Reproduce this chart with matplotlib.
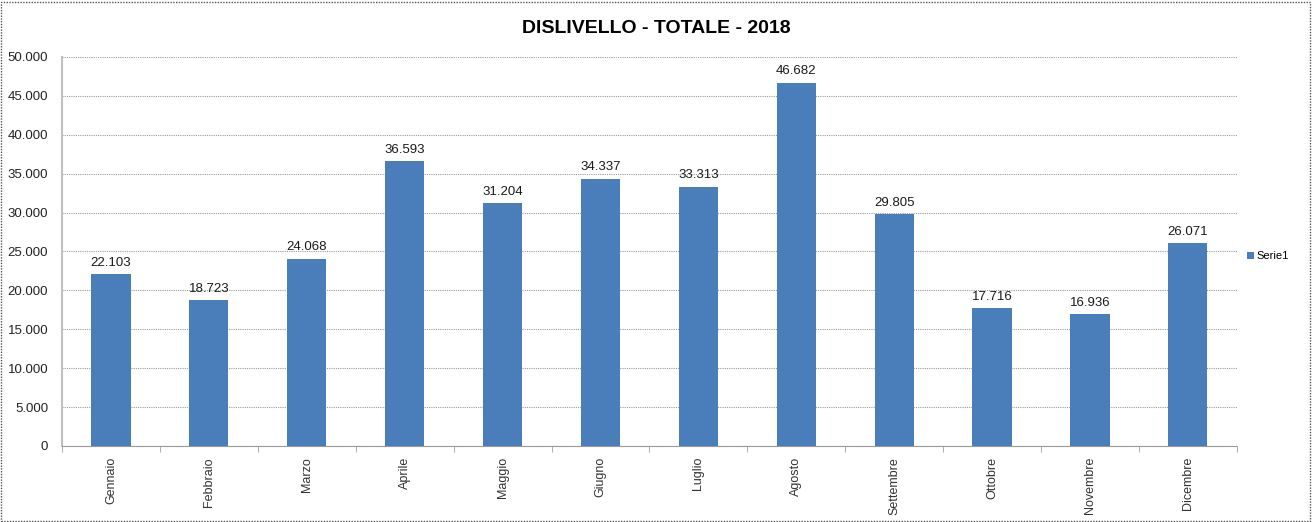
import matplotlib
matplotlib.use("Agg")
import matplotlib.pyplot as plt
from matplotlib.patches import Rectangle
from matplotlib.ticker import FuncFormatter, FixedLocator

# Dati
mesi = ["Gennaio", "Febbraio", "Marzo", "Aprile", "Maggio", "Giugno",
        "Luglio", "Agosto", "Settembre", "Ottobre", "Novembre", "Dicembre"]
dislivello = [22103, 18723, 24068, 36593, 31204, 34337,
              33313, 46682, 29805, 17716, 16936, 26071]


def formato_it(v, pos=None):
    # separatore delle migliaia con il punto
    return f"{int(round(v)):,}".replace(",", ".")


plt.rcParams["font.family"] = ["Liberation Sans", "DejaVu Sans"]
plt.rcParams["hatch.color"] = "#6f98cf"
plt.rcParams["hatch.linewidth"] = 0.3

fig = plt.figure(figsize=(13.13, 5.22), dpi=100)
ax = fig.add_axes([0.0472, 0.1456, 0.8948, 0.7455])

x = list(range(len(mesi)))
barre = ax.bar(x, dislivello, width=0.4, color="#4A7EBB", edgecolor="#4A7EBB",
               hatch="xxxxxx", linewidth=0, label="Serie1", zorder=3)

# etichette sopra le barre
for xi, v in zip(x, dislivello):
    ax.text(xi, v + 700, formato_it(v), ha="center", va="bottom",
            fontsize=9.5, color="#1a1a1a")

ax.set_xlim(-0.5, len(mesi) - 0.5)
ax.set_ylim(0, 50000)
ax.yaxis.set_major_locator(FixedLocator(range(0, 50001, 5000)))
ax.yaxis.set_major_formatter(FuncFormatter(formato_it))
ax.tick_params(axis="y", length=0, labelsize=9.5, pad=10, labelcolor="#222222")

ax.set_xticks(x)
ax.set_xticklabels(mesi, rotation=90, fontsize=9, color="#333333")
ax.tick_params(axis="x", length=0, pad=8)
ax.set_xticks([i - 0.5 for i in range(len(mesi) + 1)], minor=True)
ax.tick_params(axis="x", which="minor", length=4, color="#a0a0a0")

ax.grid(axis="y", color="#9a9a9a", linestyle=(0, (1, 1)), linewidth=0.8, zorder=0)
for s in ["top", "right"]:
    ax.spines[s].set_visible(False)
ax.spines["left"].set_color("#c0c0c0")
ax.spines["left"].set_linewidth(1.5)
ax.spines["bottom"].set_color("#9a9a9a")
ax.spines["bottom"].set_linestyle((0, (1, 1)))

fig.text(0.5, 0.945, "DISLIVELLO - TOTALE - 2018", ha="center", va="center",
         fontsize=14, fontweight="bold")

ax.legend(loc="center left", bbox_to_anchor=(1.0, 0.488), frameon=False,
          fontsize=8, handlelength=0.6, handleheight=0.6, handletextpad=0.3)

# bordo tratteggiato attorno al grafico
fig.patches.append(Rectangle((0.001, 0.002), 0.997, 0.995, transform=fig.transFigure,
                             fill=False, edgecolor="#555555", linewidth=1,
                             linestyle=(0, (1, 1))))

fig.savefig("out.png", dpi=100)
